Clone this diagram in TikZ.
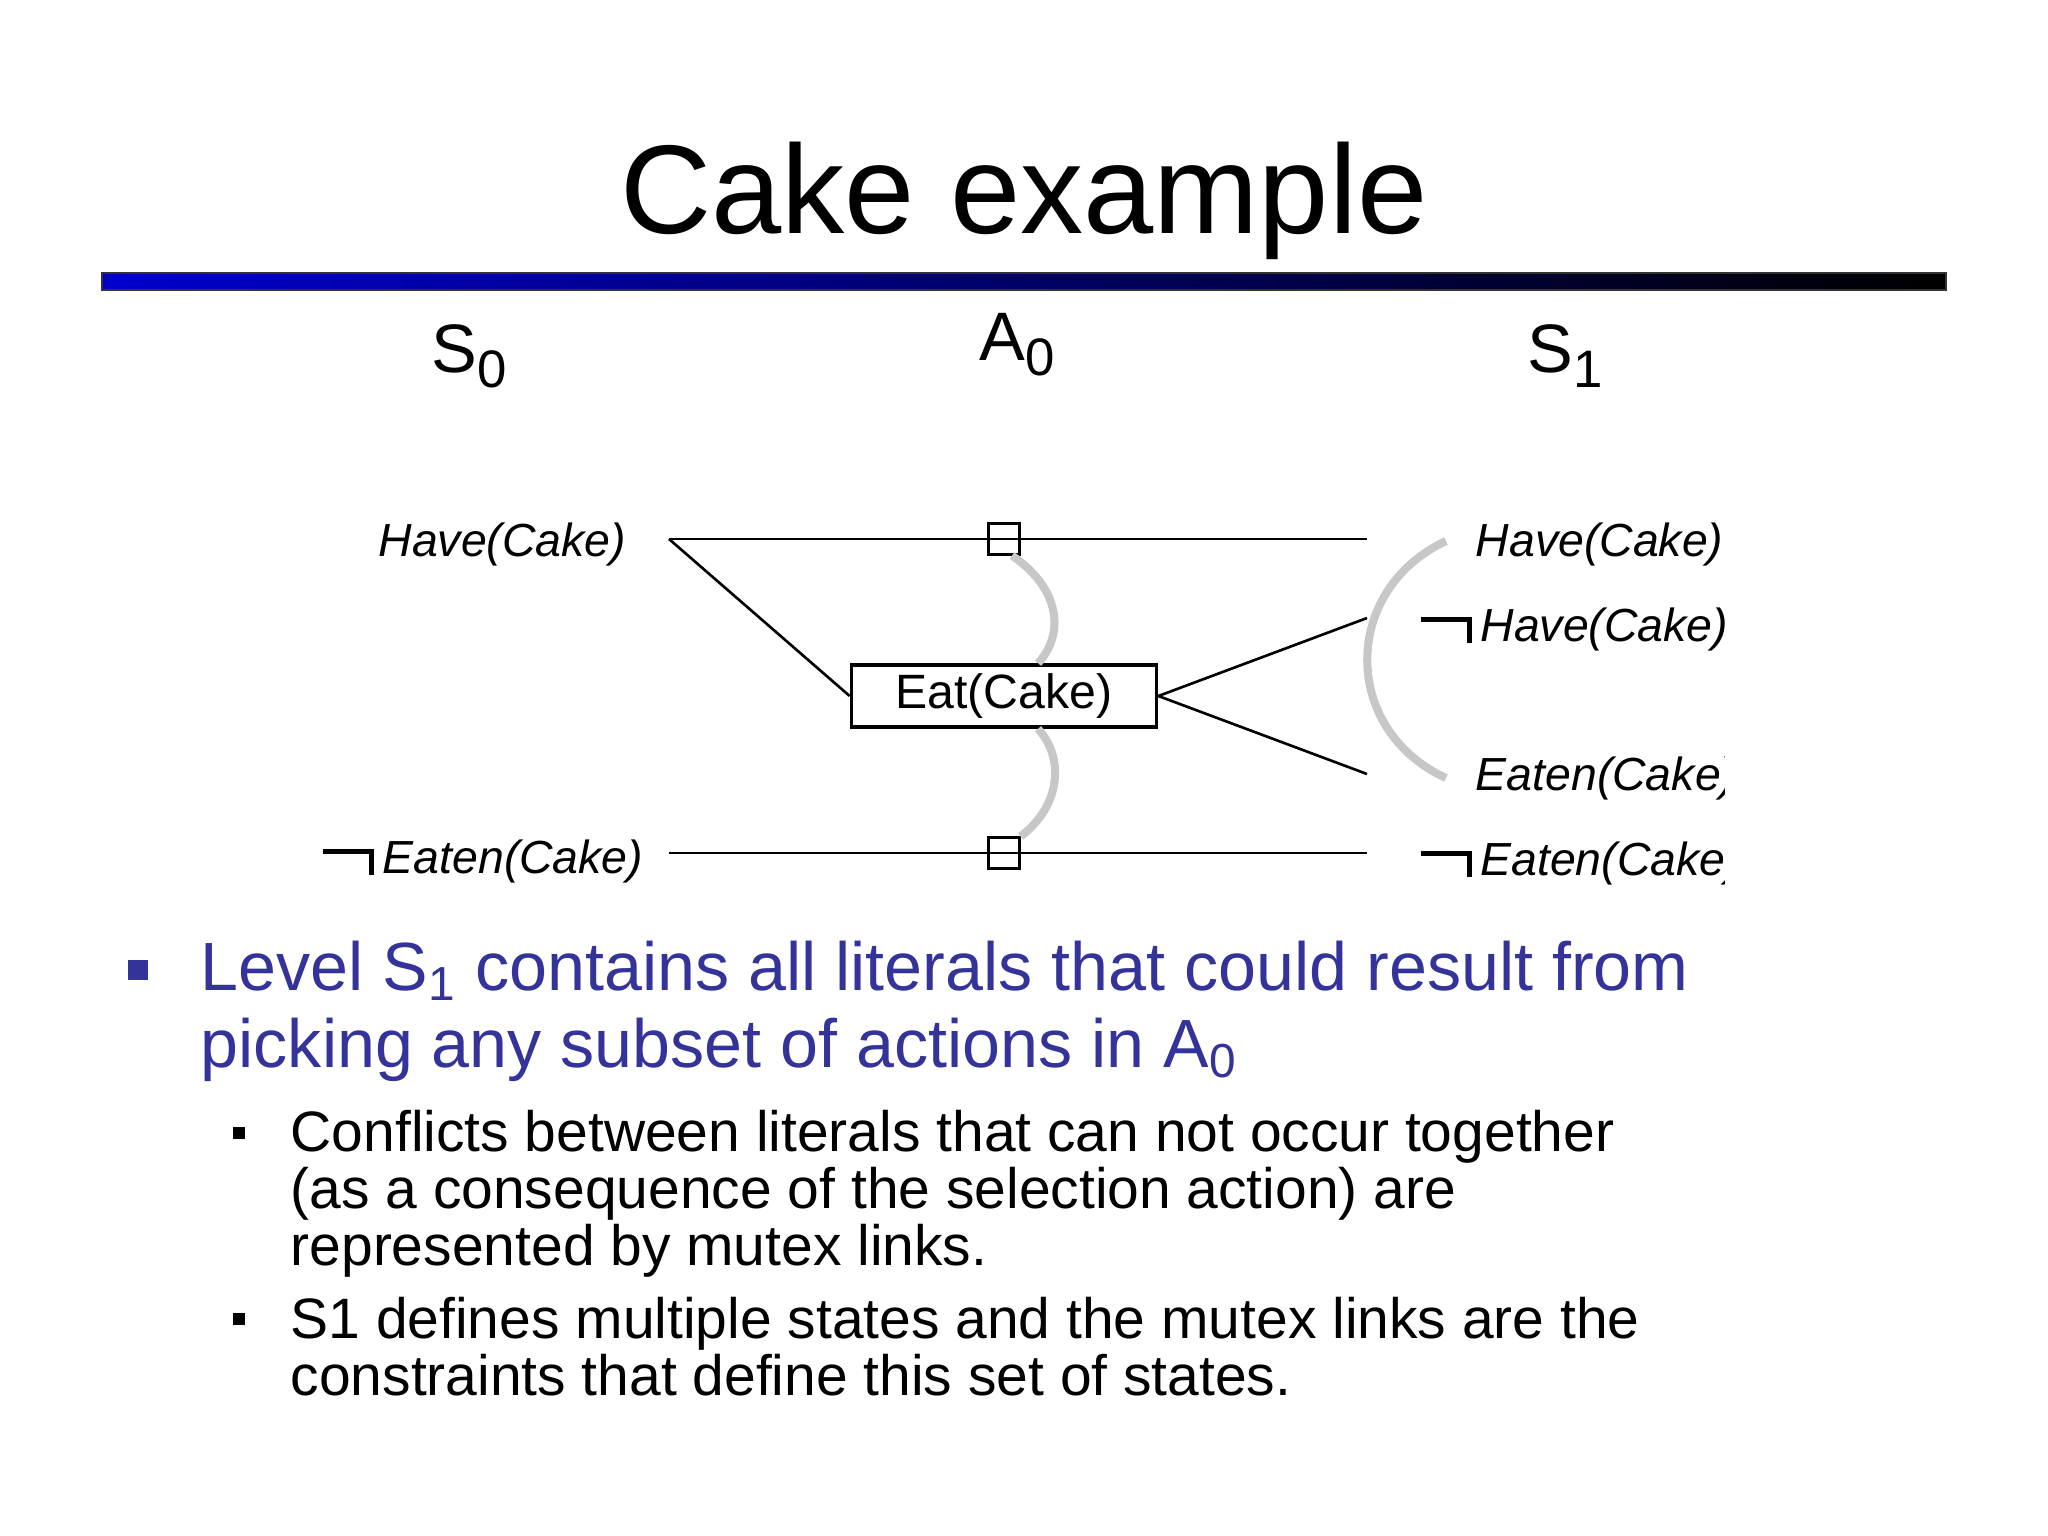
\documentclass[tikz,border=0pt]{standalone}
\usepackage{fontspec}
\setmainfont{Liberation Sans}
\usetikzlibrary{positioning}

\definecolor{slideblue}{RGB}{51,51,153}
\definecolor{barblue}{RGB}{0,0,205}
\newcommand{\lvl}[2]{#1\raisebox{-0.22em}{\fontsize{15}{15}\selectfont #2}}
\newcommand{\neglit}{\rule[5.5pt]{13.2pt}{1.3pt}\rule[-0.6pt]{1.3pt}{7.4pt}\hspace{2.5pt}}

\begin{document}
\begin{tikzpicture}[x=0.01cm, y=-0.01cm,
        lit/.style={font=\fontsize{13.2}{15}\selectfont\itshape, inner sep=0pt},
        act/.style={draw, line width=1pt, font=\fontsize{13.7}{16}\selectfont,
            minimum width=3.05cm, minimum height=0.62cm, inner sep=0pt},
        noop/.style={draw, line width=0.6pt, minimum size=0.31cm, inner sep=0pt},
        link/.style={line width=0.75pt},
        mutex/.style={draw=black!22, line width=2.3pt},
        level/.style={font=\fontsize{19.5}{20}\selectfont, inner sep=0pt, anchor=base west},
        bul/.style={inner sep=0pt, anchor=base west, align=left}]
    \useasboundingbox (0,0) rectangle (2048,1536);

    % title and bar
    \node[font=\fontsize{35.9}{40}\selectfont, anchor=base] (title) at (1024,233) {Cake example};
    \shade[left color=barblue, right color=black, draw=black!80, line width=0.4pt]
        (102,273) rectangle (1946,290);

    % levels
    \node[level] (s0) at (431,372) {\lvl{S}{0}};
    \node[level] (a0) at (979,360) {\lvl{A}{0}};
    \node[level] (s1) at (1527,372) {\lvl{S}{1}};

    % literals in S0
    \node[lit, anchor=base east] (have0) at (627,556) {Have(Cake)};
    \node[lit, anchor=base east] (eaten0) at (644,873) {\neglit Eaten(Cake)};

    % actions in A0
    \node[noop] (nop1) at (1004,539) {};
    \node[noop] (nop2) at (1004,853) {};
    \node[act] (eat) at (1004,696) {Eat(Cake)};

    % literals in S1
    \begin{scope}
        \clip (1300,480) rectangle (1724,900);
        \node[lit, anchor=base west] (have1) at (1475,556) {Have(Cake)};
        \node[lit, anchor=base west] (nhave1) at (1420,641) {\neglit Have(Cake)};
        \node[lit, anchor=base west] (eaten1) at (1475,790) {Eaten(Cake)};
        \node[lit, anchor=base west] (neaten1) at (1420,875) {\neglit Eaten(Cake)};
    \end{scope}

    \coordinate (h0) at (669,539);
    \coordinate (h1) at (1367,539);
    \coordinate (e0) at (669,853);
    \coordinate (e1) at (1367,853);
    \coordinate (nh1) at (1367,618);
    \coordinate (ea1) at (1367,774);

    \draw[link] (h0) -- (h1);
    \draw[link] (e0) -- (e1);
    \draw[link] (h0) -- (eat.west);
    \draw[link] (eat.east) -- (nh1);
    \draw[link] (eat.east) -- (ea1);

    % mutex links
    \draw[mutex] ([xshift=0.08cm]nop1.south) .. controls (1062,590) and (1064,635) .. ([xshift=0.34cm]eat.north);
    \draw[mutex] ([xshift=0.34cm]eat.south) .. controls (1064,757) and (1062,805) .. (nop2.north east);
    \draw[mutex] (1446,541) .. controls (1341,590) and (1341,730) .. (1446,778);

    % bullets
    \node[fill=slideblue, minimum size=0.2cm, inner sep=0pt] (b1) at (138,970) {};
    \node[bul, text=slideblue, font=\fontsize{19.4}{21.9}\selectfont] (t1) at (200,1067)
        {Level S\textsubscript{1} contains all literals that could result from\\picking any subset of actions in A\textsubscript{0}};
    \node[fill=black, minimum size=0.12cm, inner sep=0pt] (b2) at (239,1133) {};
    \node[bul, font=\fontsize{16.2}{16.1}\selectfont] (t2) at (290,1265)
        {Conflicts between literals that can not occur together\\(as a consequence of the selection action) are\\represented by mutex links.};
    \node[fill=black, minimum size=0.12cm, inner sep=0pt] (b3) at (239,1319) {};
    \node[bul, font=\fontsize{16.2}{16.1}\selectfont] (t3) at (290,1395)
        {S1 defines multiple states and the mutex links are the\\constraints that define this set of states.};
\end{tikzpicture}
\end{document}
